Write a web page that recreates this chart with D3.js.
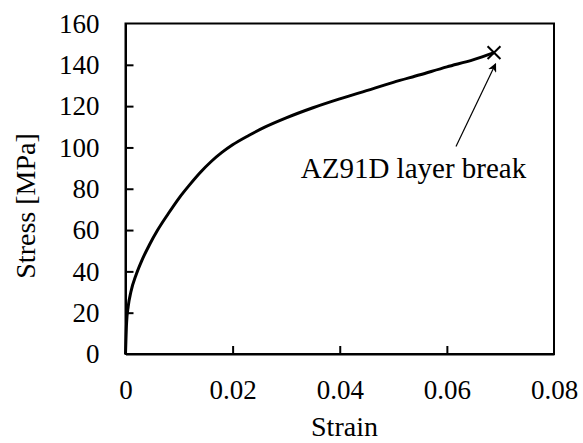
<!DOCTYPE html>
<html>
<head>
<meta charset="utf-8">
<script src="https://cdn.jsdelivr.net/npm/d3@7"></script>
<style>
  html, body { margin: 0; padding: 0; background: #fff; }
  svg { display: block; }
  svg text { font-family: "Liberation Serif", "Times New Roman", "DejaVu Serif", serif; fill: #000; }
</style>
</head>
<body>
<svg id="chart" width="583" height="443"></svg>
<script>
// Tensile stress–strain curve of the layered specimen
const strain = [0, 0.0002, 0.0005, 0.001, 0.002, 0.003, 0.0045, 0.006, 0.008, 0.010,
                0.012, 0.014, 0.016, 0.018, 0.020, 0.023, 0.026, 0.03, 0.035, 0.04,
                0.045, 0.05, 0.055, 0.06, 0.065, 0.0688];
const stress = [0, 15, 23, 30, 38.5, 45, 53, 60, 68, 75.5,
                82, 88, 93.2, 97.6, 101.3, 105.8, 109.8, 114.3, 119.2, 123.5,
                127.5, 131.5, 135.2, 139, 142.5, 145.9];

const xTicks = [0, 0.02, 0.04, 0.06, 0.08];
const xTickLabels = ["0", "0.02", "0.04", "0.06", "0.08"];
const yTicks = [0, 20, 40, 60, 80, 100, 120, 140, 160];

// Break point and annotation arrow (strain, stress)
const breakPoint = [0.0688, 145.9];
const arrowFrom = [0.0617, 100.4];
const arrowTo = [0.0691, 140.5];
const annotationText = "AZ91D layer break";

const FONT = "'Liberation Serif', 'Times New Roman', 'DejaVu Serif', serif";
const svg = d3.select("#chart");
const margin = { left: 125.5, right: 29, top: 23.5, bottom: 89 };
const W = 583, H = 443;

const x = d3.scaleLinear().domain([0, 0.08]).range([margin.left, W - margin.right]);
const y = d3.scaleLinear().domain([0, 160]).range([H - margin.bottom, margin.top]);

// Frame
svg.append("rect")
  .attr("x", x(0)).attr("y", y(160))
  .attr("width", x(0.08) - x(0)).attr("height", y(0) - y(160))
  .attr("fill", "none").attr("stroke", "#000").attr("stroke-width", 2);

// Axes with inward ticks
const xAxis = svg.append("g")
  .attr("transform", `translate(0,${y(0)})`)
  .call(d3.axisBottom(x).tickValues(xTicks).tickFormat((d, i) => xTickLabels[i])
    .tickSize(-8).tickSizeOuter(0).tickPadding(26));
const yAxis = svg.append("g")
  .attr("transform", `translate(${x(0)},0)`)
  .call(d3.axisLeft(y).tickValues(yTicks).tickFormat(d3.format("d"))
    .tickSize(-8).tickSizeOuter(0).tickPadding(26));

[xAxis, yAxis].forEach(g => {
  g.attr("font-family", FONT).attr("font-size", 27);
  g.select(".domain").attr("stroke", "#000").attr("stroke-width", 2);
  g.selectAll(".tick line").attr("stroke", "#000").attr("stroke-width", 2);
  g.selectAll(".tick text").attr("fill", "#000");
});
// tick marks lying on the frame edges are covered by the frame itself
xAxis.selectAll(".tick").filter(d => d === 0 || d === 0.08).select("line").remove();
yAxis.selectAll(".tick").filter(d => d === 0 || d === 160).select("line").remove();

// Axis titles
svg.append("text")
  .attr("x", 344.5).attr("y", 436)
  .attr("text-anchor", "middle")
  .attr("font-family", FONT)
  .attr("font-size", 28)
  .text("Strain");
svg.append("text")
  .attr("transform", "translate(35,206) rotate(-90)")
  .attr("text-anchor", "middle")
  .attr("font-family", FONT)
  .attr("font-size", 28)
  .text("Stress [MPa]");

// Curve
const pts = strain.map((s, i) => [s, stress[i]]);
svg.append("path")
  .datum(pts)
  .attr("fill", "none")
  .attr("stroke", "#000")
  .attr("stroke-width", 3)
  .attr("stroke-linejoin", "round")
  .attr("d", d3.line().x(d => x(d[0])).y(d => y(d[1])).curve(d3.curveMonotoneX));

// Break marker
svg.append("path")
  .attr("transform", `translate(${x(breakPoint[0])},${y(breakPoint[1])})`)
  .attr("d", d3.symbol(d3.symbolX, 110)())
  .attr("fill", "none")
  .attr("stroke", "#000")
  .attr("stroke-width", 2);

// Annotation arrow
const defs = svg.append("defs");
defs.append("marker")
  .attr("id", "arrowhead")
  .attr("viewBox", "0 0 10 10")
  .attr("refX", 9).attr("refY", 5)
  .attr("markerWidth", 9).attr("markerHeight", 9)
  .attr("markerUnits", "userSpaceOnUse")
  .attr("orient", "auto")
  .append("path")
  .attr("d", "M0,0 L10,5 L0,10 L3,5 Z")
  .attr("fill", "#000");

svg.append("line")
  .attr("x1", x(arrowFrom[0])).attr("y1", y(arrowFrom[1]))
  .attr("x2", x(arrowTo[0])).attr("y2", y(arrowTo[1]))
  .attr("stroke", "#000").attr("stroke-width", 1.2)
  .attr("marker-end", "url(#arrowhead)");

svg.append("text")
  .attr("x", 413.5).attr("y", 177.5)
  .attr("text-anchor", "middle")
  .attr("font-family", FONT)
  .attr("font-size", 29)
  .text(annotationText);
</script>
</body>
</html>
